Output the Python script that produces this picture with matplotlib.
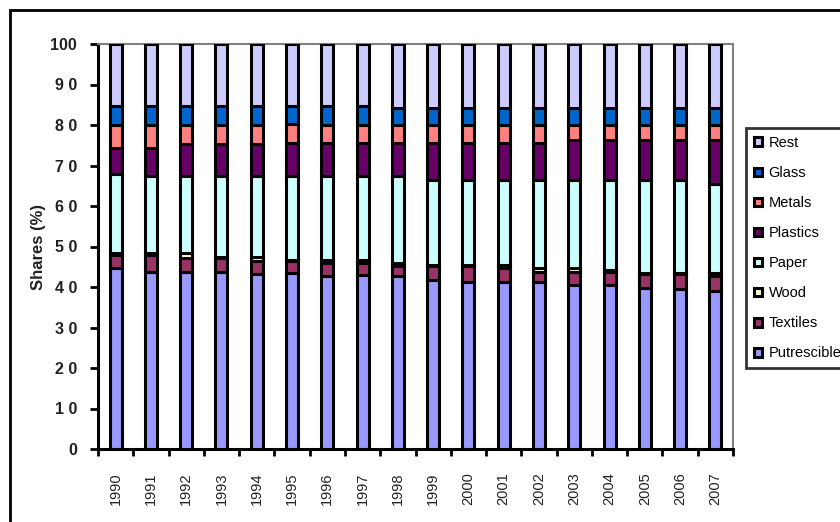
import matplotlib
matplotlib.use('Agg')
import matplotlib.pyplot as plt
from matplotlib.patches import Rectangle, Patch
import numpy as np

plt.rcParams['font.family'] = ['Liberation Sans', 'DejaVu Sans']

years = [str(y) for y in range(1990, 2008)]
putrescibles = [44.6, 43.8, 43.8, 43.8, 43.2, 43.4, 42.7, 42.9, 42.7, 41.8, 41.3, 41.3, 41.3, 40.6, 40.5, 39.7, 39.6, 39.1]
textiles     = [3.2, 4.0, 3.3, 3.3, 3.2, 2.9, 3.2, 3.0, 2.4, 3.3, 3.8, 3.3, 2.5, 3.2, 3.1, 3.5, 3.6, 3.7]
wood         = [0.5, 0.5, 1.2, 0.4, 0.9, 0.3, 0.7, 0.7, 0.9, 0.4, 0.4, 0.8, 0.8, 0.8, 0.5, 0.3, 0.3, 0.7]
paper        = [19.5, 19.2, 19.2, 20.0, 20.2, 20.8, 20.8, 20.8, 21.4, 20.8, 20.8, 20.9, 21.7, 21.7, 22.2, 22.8, 22.8, 22.0]
plastics     = [6.6, 6.9, 7.7, 7.7, 7.7, 8.2, 8.2, 8.2, 8.2, 9.3, 9.3, 9.3, 9.3, 9.9, 9.9, 9.9, 9.9, 10.7]
metals       = [5.6, 5.6, 4.8, 4.8, 4.8, 4.6, 4.4, 4.4, 4.4, 4.4, 4.4, 4.4, 4.4, 3.8, 3.8, 3.8, 3.8, 3.8]
glass        = [4.7, 4.7, 4.7, 4.7, 4.7, 4.5, 4.7, 4.7, 4.3, 4.3, 4.3, 4.3, 4.1, 4.1, 4.1, 4.1, 4.1, 4.1]
rest         = [15.3, 15.3, 15.3, 15.3, 15.3, 15.3, 15.3, 15.3, 15.7, 15.7, 15.7, 15.7, 15.9, 15.9, 15.9, 15.9, 15.9, 15.9]

series_names = ['Putrescibles', 'Textiles', 'Wood', 'Paper', 'Plastics', 'Metals', 'Glass', 'Rest']
series_values = [putrescibles, textiles, wood, paper, plastics, metals, glass, rest]
series_colors = ['#9999FF', '#993366', '#FFFFCC', '#CCFFFF', '#660066', '#FF8080', '#0066CC', '#CCCCFF']

ytick_values = list(range(0, 101, 10))
ytick_labels = ['0', '1 0', '2 0', '3 0', '4 0', '5 0', '6 0', '7 0', '8 0', '9 0', '100']

W, H = 840, 522
fig = plt.figure(figsize=(W / 100, H / 100), dpi=100)
ax = fig.add_axes([98 / W, 1 - 449 / H, (733 - 98) / W, (449 - 44) / H])

x = np.arange(len(years))
bottom = np.zeros(len(years))
handles = []
for name, vals, col in zip(series_names, series_values, series_colors):
    v = np.array(vals)
    ax.bar(x, v, width=0.34, bottom=bottom, color=col, edgecolor='black', linewidth=2.2, zorder=3)
    bottom += v
    handles.append(Patch(facecolor=col, edgecolor='black', linewidth=2.2, label=name))

ax.set_xlim(-0.5, len(years) - 0.5)
ax.set_ylim(0, 100)

# spines
for s in ['top', 'right']:
    ax.spines[s].set_color('#808080')
    ax.spines[s].set_linewidth(1.5)
for s in ['left', 'bottom']:
    ax.spines[s].set_color('black')
    ax.spines[s].set_linewidth(2.2)

ax.set_yticks(ytick_values)
ax.set_yticklabels(ytick_labels, fontsize=11.5, fontweight='bold', color='#222222')
ax.tick_params(axis='y', direction='out', length=6, width=2, pad=9)

ax.set_xticks(np.arange(-0.5, len(years), 1.0))
ax.set_xticklabels([])
ax.tick_params(axis='x', which='major', direction='out', length=5, width=2)
ax.set_xticks(x, minor=True)
ax.set_xticklabels(years, minor=True, rotation=90, fontsize=10.5, color='#222222')
ax.tick_params(axis='x', which='minor', length=0, pad=17)

ax.set_ylabel('Shares (%)', fontsize=12, fontweight='bold', color='#222222')
ax.yaxis.set_label_coords(-0.082, 0.5)

leg = fig.legend(handles=handles[::-1], loc='upper left',
                 bbox_to_anchor=(746 / W, 1 - 128 / H), bbox_transform=fig.transFigure,
                 borderaxespad=0, fontsize=10.5, handlelength=0.55, handleheight=0.55,
                 handletextpad=0.45, labelspacing=1.1, borderpad=0.55,
                 fancybox=False, frameon=True)
leg.get_frame().set_edgecolor('black')
leg.get_frame().set_linewidth(2.0)

# outer chart frame
fig.add_artist(Rectangle((10 / W, -0.2), 1.5, 1.2 - 10 / H, transform=fig.transFigure,
                         fill=False, edgecolor='black', linewidth=2.0))

fig.savefig('out.png', dpi=100)
